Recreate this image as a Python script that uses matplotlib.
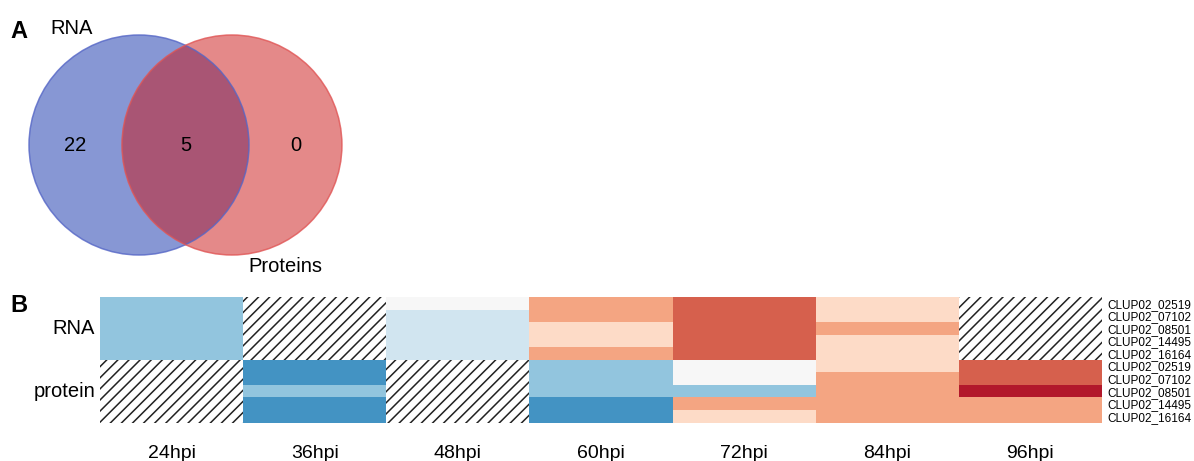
import numpy as np
import matplotlib
matplotlib.use("Agg")
import matplotlib.pyplot as plt
from matplotlib.colors import ListedColormap, BoundaryNorm
from matplotlib.patches import Circle, Rectangle

plt.rcParams["font.family"] = ["Liberation Sans", "DejaVu Sans"]
plt.rcParams["hatch.linewidth"] = 1.1

# ---- Venn counts ----
venn_sets = ["RNA", "Proteins"]
venn_only_rna = 22
venn_shared = 5
venn_only_protein = 0

# ---- Heatmap data (binned log fold change, NaN = not detected) ----
timepoints = ["24hpi", "36hpi", "48hpi", "60hpi", "72hpi", "84hpi", "96hpi"]
genes = ["CLUP02_02519", "CLUP02_07102", "CLUP02_08501", "CLUP02_14495", "CLUP02_16164"]
nan = np.nan
rna_values = [
    [-2, nan, 0, 2, 3, 1, nan],
    [-2, nan, -1, 2, 3, 1, nan],
    [-2, nan, -1, 1, 3, 2, nan],
    [-2, nan, -1, 1, 3, 1, nan],
    [-2, nan, -1, 2, 3, 1, nan],
]
protein_values = [
    [nan, -3, nan, -2, 0, 1, 3],
    [nan, -3, nan, -2, 0, 2, 3],
    [nan, -2, nan, -2, -2, 2, 4],
    [nan, -3, nan, -3, 2, 2, 2],
    [nan, -3, nan, -3, 1, 2, 2],
]
level_colors = ["#4393c3", "#92c5de", "#d1e5f0", "#f7f7f7",
                "#fddbc7", "#f4a582", "#d6604d", "#b2182b"]
levels = [-3, -2, -1, 0, 1, 2, 3, 4]

W, H = 1194, 461
fig = plt.figure(figsize=(W / 100, H / 100), dpi=100)

# ---------------- Panel A: Venn diagram ----------------
r_px = 110.0
box = (0, 0, 380, 290)           # left, top, width, height in pixels
cx_px, cy_px = 139.0, 145.0      # centre of the first circle inside the box
axv = fig.add_axes([box[0] / W, 1 - (box[1] + box[3]) / H, box[2] / W, box[3] / H])
axv.set_xlim(-cx_px / r_px, (box[2] - cx_px) / r_px)
axv.set_ylim(-(box[3] - cy_px) / r_px, cy_px / r_px)
axv.axis("off")

d = 0.845  # centre separation in radii
axv.add_patch(Circle((0, 0), 1.0, facecolor=(17/255, 49/255, 171/255), alpha=0.5,
                     edgecolor="none"))
axv.add_patch(Circle((d, 0), 1.0, facecolor=(203/255, 21/255, 21/255), alpha=0.5,
                     edgecolor="none"))
axv.add_patch(Circle((0, 0), 1.0, fill=False, edgecolor="#5566c6", lw=1.1, alpha=0.8))
axv.add_patch(Circle((d, 0), 1.0, fill=False, edgecolor="#e05555", lw=1.1, alpha=0.8))

fs_v = 14.5
axv.text((d - 2) / 2, 0, str(venn_only_rna), ha="center", va="center", fontsize=fs_v)
axv.text(d / 2, 0, str(venn_shared), ha="center", va="center", fontsize=fs_v)
axv.text(1 + d / 2, 0, str(venn_only_protein), ha="center", va="center", fontsize=fs_v)
axv.text(-0.61, 1.06, venn_sets[0], ha="center", va="center", fontsize=fs_v)
axv.text(1.33, -1.10, venn_sets[1], ha="center", va="center", fontsize=fs_v)

fig.text(10 / W, 1 - 32 / H, "A", fontsize=17, fontweight="bold", ha="left", va="center")
fig.text(10 / W, 1 - 306 / H, "B", fontsize=17, fontweight="bold", ha="left", va="center")

# ---------------- Panel B: heatmap ----------------
hm_left, hm_top, hm_right, hm_bottom = 100, 297, 1102, 422.5
axh = fig.add_axes([hm_left / W, 1 - hm_bottom / H,
                    (hm_right - hm_left) / W, (hm_bottom - hm_top) / H])

data = np.array(rna_values + protein_values, dtype=float)
n_rows, n_cols = data.shape
cmap = ListedColormap(level_colors)
norm = BoundaryNorm(np.array(levels + [levels[-1] + 1]) - 0.5, cmap.N)

# hatched background shows through the missing cells
axh.add_patch(Rectangle((0, 0), n_cols, n_rows, facecolor="white", edgecolor="#222222",
                        hatch="///", lw=0, zorder=0))
axh.pcolormesh(np.arange(n_cols + 1), np.arange(n_rows + 1),
               np.ma.masked_invalid(data), cmap=cmap, norm=norm, zorder=1)
axh.set_xlim(0, n_cols)
axh.set_ylim(n_rows, 0)
for s in axh.spines.values():
    s.set_visible(False)

axh.set_xticks(np.arange(n_cols) + 0.5)
axh.set_xticklabels(timepoints, fontsize=14)
axh.tick_params(axis="x", length=0, pad=16)

axh.yaxis.tick_right()
axh.set_yticks(np.arange(n_rows) + 0.5)
axh.set_yticklabels(genes + genes, fontsize=8.5)
axh.tick_params(axis="y", length=0, pad=4)

ytr = axh.get_yaxis_transform()
axh.text(-0.005, 2.5, "RNA", transform=ytr, ha="right", va="center", fontsize=14.5)
axh.text(-0.005, 7.5, "protein", transform=ytr, ha="right", va="center", fontsize=14.5)

fig.savefig("out.png", dpi=100)
